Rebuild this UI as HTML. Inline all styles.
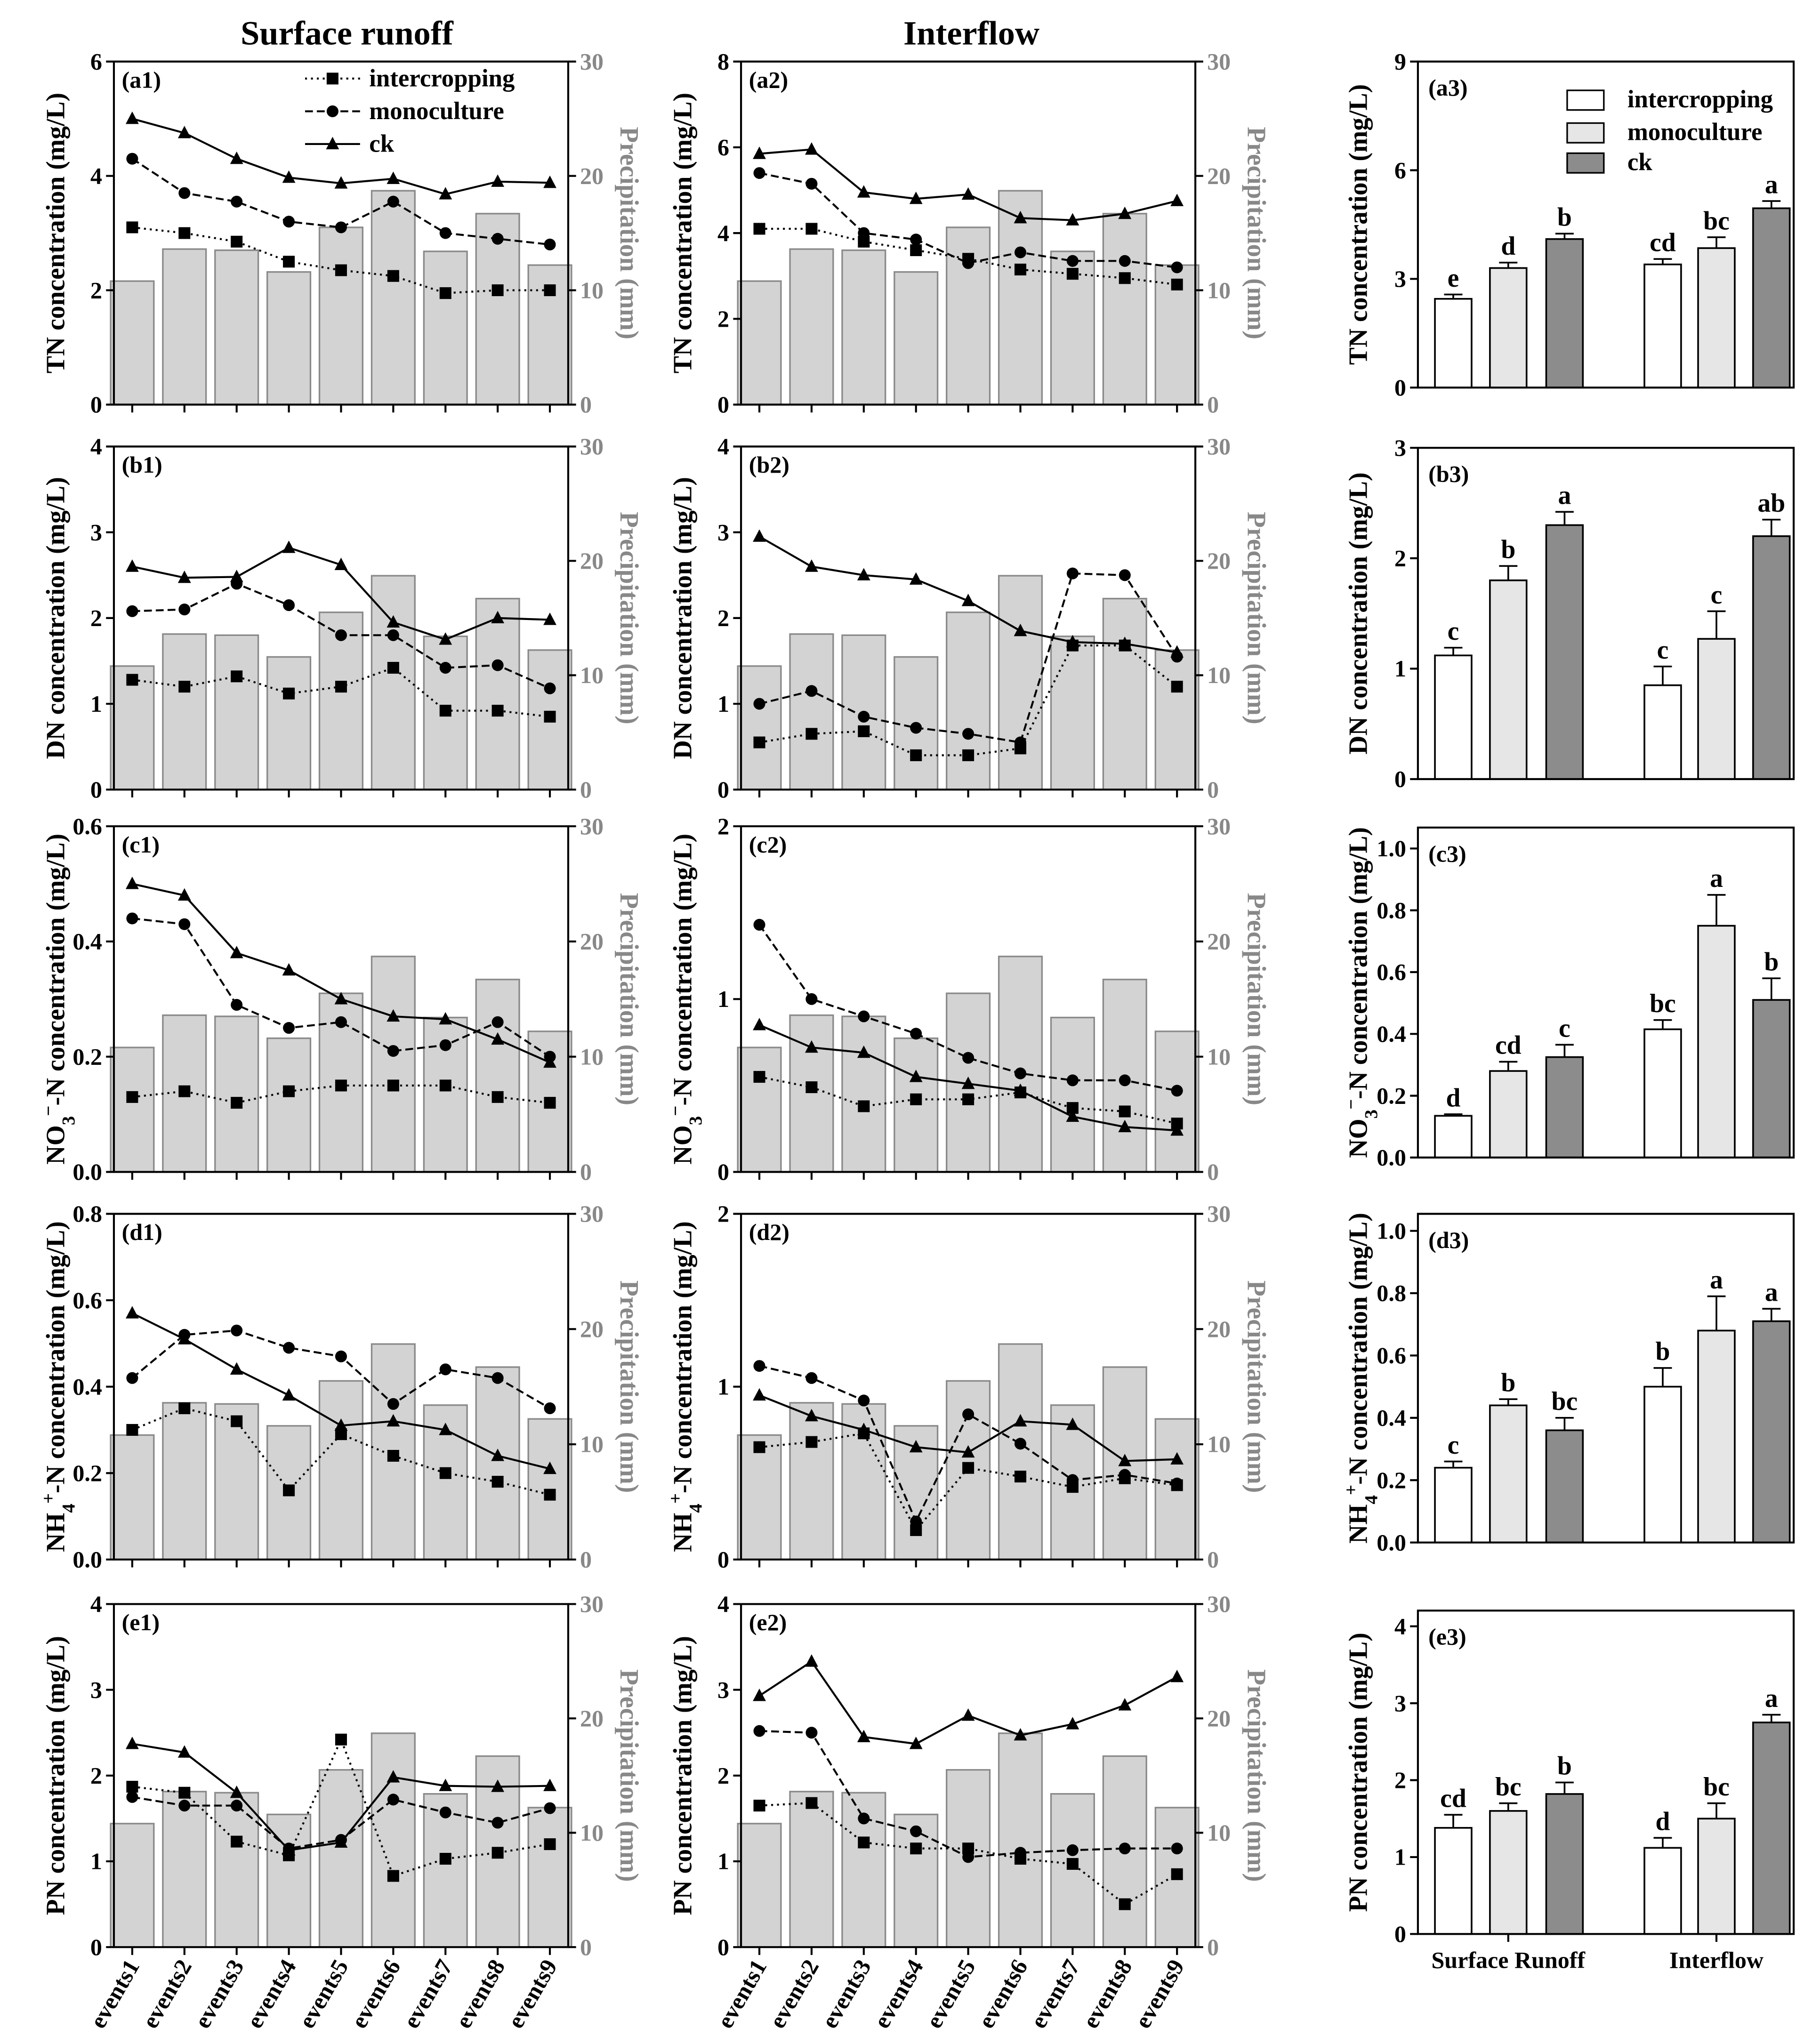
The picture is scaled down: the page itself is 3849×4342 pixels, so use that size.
<!DOCTYPE html>
<html><head><meta charset="utf-8"><style>
html,body{margin:0;padding:0;background:#fff}
svg{display:block}
text{font-family:"Liberation Serif",serif;font-weight:bold}
</style></head><body>
<svg id="fig" xmlns="http://www.w3.org/2000/svg" width="3849" height="4342" viewBox="0 0 1384 1561" preserveAspectRatio="none"></svg>
<script>
const events = ["events1","events2","events3","events4","events5","events6","events7","events8","events9"];
const precip = [10.8,13.6,13.5,11.6,15.5,18.7,13.4,16.7,12.2];
const a1_inter=[3.1,3.0,2.85,2.5,2.35,2.25,1.95,2.0,2.0];
const a1_mono=[4.3,3.7,3.55,3.2,3.1,3.55,3.0,2.9,2.8];
const a1_ck=[5.0,4.75,4.3,3.97,3.87,3.95,3.68,3.9,3.88];
const a2_inter=[4.1,4.1,3.8,3.6,3.4,3.15,3.05,2.95,2.8];
const a2_mono=[5.4,5.15,4.0,3.85,3.3,3.55,3.35,3.35,3.2];
const a2_ck=[5.85,5.95,4.95,4.8,4.9,4.35,4.3,4.45,4.75];
const b1_inter=[1.28,1.2,1.32,1.12,1.2,1.42,0.92,0.92,0.85];
const b1_mono=[2.08,2.1,2.4,2.15,1.8,1.8,1.42,1.45,1.18];
const b1_ck=[2.6,2.47,2.48,2.82,2.62,1.95,1.75,2.0,1.98];
const b2_inter=[0.55,0.65,0.68,0.4,0.4,0.48,1.68,1.68,1.2];
const b2_mono=[1.0,1.15,0.85,0.72,0.65,0.55,2.52,2.5,1.55];
const b2_ck=[2.95,2.6,2.5,2.45,2.2,1.85,1.72,1.7,1.6];
const c1_inter=[0.13,0.14,0.12,0.14,0.15,0.15,0.15,0.13,0.12];
const c1_mono=[0.44,0.43,0.29,0.25,0.26,0.21,0.22,0.26,0.2];
const c1_ck=[0.5,0.48,0.38,0.35,0.3,0.27,0.265,0.23,0.19];
const c2_inter=[0.55,0.49,0.38,0.42,0.42,0.46,0.37,0.35,0.28];
const c2_mono=[1.43,1.0,0.9,0.8,0.66,0.57,0.53,0.53,0.47];
const c2_ck=[0.85,0.72,0.69,0.55,0.51,0.47,0.32,0.26,0.24];
const d1_inter=[0.3,0.35,0.32,0.16,0.29,0.24,0.2,0.18,0.15];
const d1_mono=[0.42,0.52,0.53,0.49,0.47,0.36,0.44,0.42,0.35];
const d1_ck=[0.57,0.51,0.44,0.38,0.31,0.32,0.3,0.24,0.21];
const d2_inter=[0.65,0.68,0.73,0.17,0.53,0.48,0.42,0.47,0.43];
const d2_mono=[1.12,1.05,0.92,0.22,0.84,0.67,0.46,0.49,0.44];
const d2_ck=[0.95,0.83,0.75,0.65,0.62,0.8,0.78,0.57,0.58];
const e1_inter=[1.87,1.8,1.23,1.07,2.42,0.83,1.03,1.1,1.2];
const e1_mono=[1.75,1.65,1.65,1.15,1.25,1.72,1.57,1.45,1.62];
const e1_ck=[2.37,2.27,1.8,1.13,1.22,1.98,1.88,1.87,1.88];
const e2_inter=[1.65,1.68,1.22,1.15,1.15,1.03,0.97,0.5,0.85];
const e2_mono=[2.52,2.5,1.5,1.35,1.05,1.1,1.13,1.15,1.15];
const e2_ck=[2.93,3.33,2.45,2.37,2.7,2.47,2.6,2.82,3.15];
const groups=["Surface Runoff","Interflow"];
const a3_vals=[[2.45,3.3,4.1],[3.4,3.85,4.95]]; const a3_err=[[0.12,0.15,0.15],[0.15,0.3,0.2]]; const a3_let=[["e","d","b"],["cd","bc","a"]];
const b3_vals=[[1.12,1.8,2.3],[0.85,1.27,2.2]]; const b3_err=[[0.07,0.13,0.12],[0.17,0.25,0.15]]; const b3_let=[["c","b","a"],["c","c","ab"]];
const c3_vals=[[0.135,0.28,0.325],[0.415,0.75,0.51]]; const c3_err=[[0.005,0.03,0.04],[0.03,0.1,0.07]]; const c3_let=[["d","cd","c"],["bc","a","b"]];
const d3_vals=[[0.24,0.44,0.36],[0.5,0.68,0.71]]; const d3_err=[[0.02,0.02,0.04],[0.06,0.11,0.04]]; const d3_let=[["c","b","bc"],["b","a","a"]];
const e3_vals=[[1.38,1.6,1.82],[1.12,1.5,2.75]]; const e3_err=[[0.17,0.1,0.15],[0.13,0.2,0.1]]; const e3_let=[["cd","bc","b"],["d","bc","a"]];

const NS="http://www.w3.org/2000/svg";
const svg=document.getElementById('fig');
function el(tag,attrs,parent,txt){const e=document.createElementNS(NS,tag);for(const k in attrs)e.setAttribute(k,attrs[k]);if(txt!==undefined)e.textContent=txt;(parent||svg).appendChild(e);return e;}
function fmt(v,dec){return v.toFixed(dec);}

function marker(g,type,x,y){
  let m;
  if(type==='sq') m=el('rect',{x:x-4.5,y:y-4.5,width:9,height:9,fill:'#000'},g);
  else if(type==='ci') m=el('circle',{cx:x,cy:y,r:4.5,fill:'#000'},g);
  else m=el('polygon',{points:`${x},${y-5.5} ${x-5},${y+4} ${x+5},${y+4}`,fill:'#000'},g);
  
  
}

function linePanel(o){
  const g=el('g',{});
  
  
  const L=o.x0,R=o.x1,T=o.top,B=o.bot;
  const ys=v=>B-(v/o.ymax)*(B-T);
  const yp=v=>B-(v/30)*(B-T);
  const xs=i=>L+14+i*((R-L-28)/8);
  precip.forEach((p,i)=>{
    const r=el('rect',{x:xs(i)-16.5,y:yp(p),width:33,height:B-yp(p),fill:'#d3d3d3',stroke:'#8a8a8a','stroke-width':1.2},g);
    
    
  });
  const ax=el('path',{d:`M${L},${T} L${L},${B} L${R},${B} L${R},${T} L${L},${T}`,fill:'none',stroke:'#000','stroke-width':1.5},g);
  
  
  o.ticks.forEach(t=>{
    el('line',{x1:L-6,x2:L,y1:ys(t),y2:ys(t),stroke:'#000','stroke-width':1.5},g);
    const tl=el('text',{x:L-9,y:ys(t)+6,'text-anchor':'end','font-size':18},g,fmt(t,o.dec));
    
    
  });
  [0,10,20,30].forEach(t=>{
    el('line',{x1:R,x2:R+6,y1:yp(t),y2:yp(t),stroke:'#000','stroke-width':1.5},g);
    const tl=el('text',{x:R+9,y:yp(t)+6,'font-size':18,fill:'#888'},g,String(t));
    
    
  });
  events.forEach((e,i)=>{
    el('line',{x1:xs(i),x2:xs(i),y1:B,y2:B+6,stroke:'#000','stroke-width':1.5},g);
    if(o.xlabels){
      const t=el('text',{transform:`translate(${xs(i)+6},${B+14}) rotate(-60)`,'text-anchor':'end','font-size':18},g,e);
      
      
    }
  });
  const series=[[o.inter,'sq','1.5,3','series-intercropping'],[o.mono,'ci','6,3','series-monoculture'],[o.ck,'tr','','series-ck']];
  series.forEach(s=>{
    const pts=s[0].map((v,i)=>xs(i)+','+ys(v)).join(' ');
    const pl=el('polyline',{points:pts,fill:'none',stroke:'#000','stroke-width':1.5,'stroke-dasharray':s[2]||'none'},g);
    
    
    s[0].forEach((v,i)=>marker(g,s[1],xs(i),ys(v)));
  });
  const pl=el('text',{x:L+6,y:T+20,'font-size':18},g,o.label);
  
  
  const yt=el('text',{transform:`translate(${L-38},${(T+B)/2}) rotate(-90)`,'text-anchor':'middle','font-size':20},g);
  
  
  yt.innerHTML=o.title;
  const y2=el('text',{transform:`translate(${R+40},${(T+B)/2}) rotate(90)`,'text-anchor':'middle','font-size':20,fill:'#888'},g,'Precipitation (mm)');
  
  
}

function barPanel(o){
  const g=el('g',{});
  
  
  const L=1083,R=1370,T=o.top,B=o.bot,FT=o.ftop;
  const ys=v=>B-(v/o.ymax)*(B-T);
  const centers=[[1110,1152,1195],[1270,1311,1353]];
  const fills=['#fff','#e6e6e6','#8c8c8c'];
  o.vals.forEach((grp,gi)=>grp.forEach((v,k)=>{
    const x=centers[gi][k];
    const r=el('rect',{x:x-14,y:ys(v),width:28,height:B-ys(v),fill:fills[k],stroke:'#000','stroke-width':1.3},g);
    
    
    const e=o.err[gi][k];
    el('path',{d:`M${x},${ys(v)} L${x},${ys(v+e)} M${x-7},${ys(v+e)} L${x+7},${ys(v+e)}`,stroke:'#000','stroke-width':1.3,fill:'none'},g);
    const lt=el('text',{x:x,y:ys(v+e)-6,'text-anchor':'middle','font-size':20},g,o.let[gi][k]);
    
    
  }));
  const ax=el('path',{d:`M${L},${FT} L${L},${B} L${R},${B} L${R},${FT} Z`,fill:'none',stroke:'#000','stroke-width':1.5},g);
  
  
  o.ticks.forEach(t=>{
    el('line',{x1:L-6,x2:L,y1:ys(t),y2:ys(t),stroke:'#000','stroke-width':1.5},g);
    const tl=el('text',{x:L-9,y:ys(t)+6,'text-anchor':'end','font-size':18},g,fmt(t,o.dec));
    
    
  });
  if(o.xlabels){
    [[1152,groups[0]],[1311,groups[1]]].forEach(a=>{
      el('line',{x1:a[0],x2:a[0],y1:B,y2:B+6,stroke:'#000','stroke-width':1.5},g);
      const t=el('text',{x:a[0],y:B+26,'text-anchor':'middle','font-size':18},g,a[1]);
      
      
    });
  }
  const pl=el('text',{x:L+8,y:FT+26,'font-size':18},g,o.label);
  
  
  const yt=el('text',{transform:`translate(${L-39},${(FT+B)/2}) rotate(-90)`,'text-anchor':'middle','font-size':20},g);
  
  
  yt.innerHTML=o.title;
}

const rows=[[47,309],[341,603],[631,895],[927,1191],[1225,1487]];
const C1=[87,434],C2=[566,913];
const tTN='TN concentration (mg/L)',tDN='DN concentration (mg/L)',tPN='PN concentration (mg/L)';
const tNO='NO<tspan baseline-shift="sub" font-size="14">3</tspan><tspan baseline-shift="super" font-size="14">−</tspan>-N concentration (mg/L)';
const tNH='NH<tspan baseline-shift="sub" font-size="14">4</tspan><tspan baseline-shift="super" font-size="14">+</tspan>-N concentration (mg/L)';
linePanel({id:'a1',label:'(a1)',x0:C1[0],x1:C1[1],top:rows[0][0],bot:rows[0][1],ymax:6,ticks:[0,2,4,6],dec:0,inter:a1_inter,mono:a1_mono,ck:a1_ck,title:tTN});
linePanel({id:'a2',label:'(a2)',x0:C2[0],x1:C2[1],top:rows[0][0],bot:rows[0][1],ymax:8,ticks:[0,2,4,6,8],dec:0,inter:a2_inter,mono:a2_mono,ck:a2_ck,title:tTN});
linePanel({id:'b1',label:'(b1)',x0:C1[0],x1:C1[1],top:rows[1][0],bot:rows[1][1],ymax:4,ticks:[0,1,2,3,4],dec:0,inter:b1_inter,mono:b1_mono,ck:b1_ck,title:tDN});
linePanel({id:'b2',label:'(b2)',x0:C2[0],x1:C2[1],top:rows[1][0],bot:rows[1][1],ymax:4,ticks:[0,1,2,3,4],dec:0,inter:b2_inter,mono:b2_mono,ck:b2_ck,title:tDN});
linePanel({id:'c1',label:'(c1)',x0:C1[0],x1:C1[1],top:rows[2][0],bot:rows[2][1],ymax:0.6,ticks:[0,0.2,0.4,0.6],dec:1,inter:c1_inter,mono:c1_mono,ck:c1_ck,title:tNO});
linePanel({id:'c2',label:'(c2)',x0:C2[0],x1:C2[1],top:rows[2][0],bot:rows[2][1],ymax:2,ticks:[0,1,2],dec:0,inter:c2_inter,mono:c2_mono,ck:c2_ck,title:tNO});
linePanel({id:'d1',label:'(d1)',x0:C1[0],x1:C1[1],top:rows[3][0],bot:rows[3][1],ymax:0.8,ticks:[0,0.2,0.4,0.6,0.8],dec:1,inter:d1_inter,mono:d1_mono,ck:d1_ck,title:tNH});
linePanel({id:'d2',label:'(d2)',x0:C2[0],x1:C2[1],top:rows[3][0],bot:rows[3][1],ymax:2,ticks:[0,1,2],dec:0,inter:d2_inter,mono:d2_mono,ck:d2_ck,title:tNH});
linePanel({id:'e1',label:'(e1)',x0:C1[0],x1:C1[1],top:rows[4][0],bot:rows[4][1],ymax:4,ticks:[0,1,2,3,4],dec:0,inter:e1_inter,mono:e1_mono,ck:e1_ck,title:tPN,xlabels:true});
linePanel({id:'e2',label:'(e2)',x0:C2[0],x1:C2[1],top:rows[4][0],bot:rows[4][1],ymax:4,ticks:[0,1,2,3,4],dec:0,inter:e2_inter,mono:e2_mono,ck:e2_ck,title:tPN,xlabels:true});

barPanel({id:'a3',label:'(a3)',top:47,ftop:47,bot:296,ymax:9,ticks:[0,3,6,9],dec:0,vals:a3_vals,err:a3_err,let:a3_let,title:tTN});
barPanel({id:'b3',label:'(b3)',top:342,ftop:342,bot:595,ymax:3,ticks:[0,1,2,3],dec:0,vals:b3_vals,err:b3_err,let:b3_let,title:tDN});
barPanel({id:'c3',label:'(c3)',top:648,ftop:632,bot:884,ymax:1,ticks:[0,0.2,0.4,0.6,0.8,1.0],dec:1,vals:c3_vals,err:c3_err,let:c3_let,title:tNO});
barPanel({id:'d3',label:'(d3)',top:940,ftop:927,bot:1178,ymax:1,ticks:[0,0.2,0.4,0.6,0.8,1.0],dec:1,vals:d3_vals,err:d3_err,let:d3_let,title:tNH});
barPanel({id:'e3',label:'(e3)',top:1242,ftop:1230,bot:1477,ymax:4,ticks:[0,1,2,3,4],dec:0,vals:e3_vals,err:e3_err,let:e3_let,title:tPN,xlabels:true});

const h1=el('text',{x:265,y:34,'text-anchor':'middle','font-size':26},svg,'Surface runoff');


const h2=el('text',{x:742,y:34,'text-anchor':'middle','font-size':26},svg,'Interflow');



const lg=el('g',{});


[['intercropping','sq','1.5,3',60],['monoculture','ci','6,3',85],['ck','tr','',110]].forEach(r=>{
  el('line',{x1:233,x2:275,y1:r[3],y2:r[3],stroke:'#000','stroke-width':1.5,'stroke-dasharray':r[2]||'none'},lg);
  marker(lg,r[1],254,r[3]);
  const t=el('text',{x:282,y:r[3]+6,'font-size':19},lg,r[0]);
  
  
});
const lg2=el('g',{});


[['intercropping','#fff',76],['monoculture','#e6e6e6',101],['ck','#8c8c8c',124]].forEach(r=>{
  el('rect',{x:1197,y:r[2]-7,width:28,height:15,fill:r[1],stroke:'#000','stroke-width':1.2},lg2);
  const t=el('text',{x:1243,y:r[2]+6,'font-size':19},lg2,r[0]);
  
  
});
</script>
</body></html>
